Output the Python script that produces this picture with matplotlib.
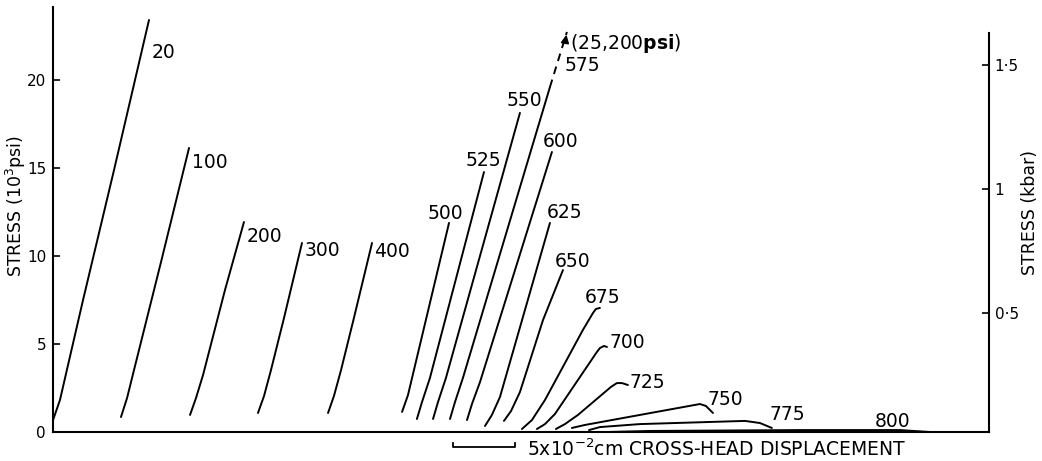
import matplotlib
matplotlib.use("Agg")
import matplotlib.pyplot as plt

plt.rcParams['font.family'] = ['DejaVu Sans']

# cross-head displacement in units of 1e-2 cm, stress in 1e3 psi
temps = ['20', '100', '200', '300', '400', '500', '525', '550', '575',
         '600', '625', '650', '675', '700', '725', '750', '775', '800']

disp = [
    [0, 0.56, 1.21, 2.42, 4.92, 7.74],
    [5.48, 5.97, 6.53, 8.71, 10.97],
    [11.05, 11.53, 12.10, 13.87, 15.40],
    [16.53, 17.02, 17.58, 18.63, 20.08],
    [22.18, 22.66, 23.23, 24.27, 25.73],
    [28.15, 28.63, 29.11, 31.94],
    [29.35, 29.76, 30.40, 34.76],
    [30.65, 31.05, 31.69, 37.66],
    [32.02, 32.42, 33.06, 40.08],
    [33.39, 33.79, 34.44, 40.24],
    [34.84, 35.40, 36.05, 40.08],
    [36.37, 36.94, 37.66, 39.52, 41.13],
    [37.82, 38.63, 39.68, 42.74, 43.55, 43.79, 44.11],
    [39.03, 39.68, 40.48, 43.87, 44.11, 44.44, 44.68],
    [40.56, 41.29, 42.34, 45.00, 45.48, 45.89, 46.37],
    [41.85, 42.90, 47.34, 52.18, 52.66, 53.23],
    [43.23, 44.11, 47.34, 55.81, 57.02, 57.98],
    [44.68, 48.15, 60.24, 68.31, 70.73],
]

stress = [
    [0.68, 1.82, 3.81, 7.50, 14.89, 23.41],
    [0.85, 1.93, 3.52, 9.66, 16.14],
    [0.97, 1.93, 3.24, 8.07, 11.93],
    [1.08, 2.05, 3.52, 6.48, 10.74],
    [1.08, 2.05, 3.52, 6.48, 10.74],
    [1.14, 2.10, 3.52, 11.88],
    [0.74, 1.70, 3.07, 14.77],
    [0.74, 1.70, 3.07, 18.13],
    [0.74, 1.70, 3.07, 19.60],
    [0.68, 1.59, 2.84, 15.91],
    [0.34, 0.97, 1.99, 11.88],
    [0.63, 1.19, 2.27, 6.36, 9.20],
    [0.17, 0.68, 1.82, 5.80, 6.76, 6.99, 7.05],
    [0.17, 0.45, 1.02, 4.55, 4.77, 4.89, 4.83],
    [0.17, 0.45, 0.97, 2.56, 2.78, 2.78, 2.67],
    [0.23, 0.40, 0.97, 1.59, 1.48, 1.08],
    [0.11, 0.28, 0.45, 0.63, 0.51, 0.23],
    [0.00, 0.06, 0.11, 0.11, 0.00],
]

# 575 run went off scale, extrapolated to the breaking stress
extra_disp = [40.08, 41.45]
extra_stress = [19.60, 22.73]
peak_note = r'(25,200$\mathbf{psi}$)'

# where each temperature label sits (left edge, middle)
label_x = [7.98, 11.21, 15.65, 20.32, 25.89, 30.24, 33.31, 36.61, 41.29,
           39.52, 39.84, 40.48, 42.90, 44.92, 46.53, 52.82, 57.82, 66.29]
label_y = [21.59, 15.34, 11.08, 10.34, 10.23, 12.44, 15.45, 18.86, 20.85,
           16.48, 12.5, 9.66, 7.67, 5.06, 2.84, 1.82, 1.02, 0.57]

ksi_ticks = [0, 5, 10, 15, 20]
kbar_ticks = [0.5, 1, 1.5]
kbar_labels = ['0·5', '1', '1·5']


def to_kbar(s):
    return (s + 0.3) / 14.1


def to_ksi(k):
    return k * 14.1 - 0.3


fig = plt.figure(figsize=(10.42, 4.61), dpi=100)
ax = fig.add_axes([0.0509, 0.0629, 0.8983, 0.9220])

for i in range(len(temps)):
    ax.plot(disp[i], stress[i], color='black', lw=1.4, solid_capstyle='round')
    ax.text(label_x[i], label_y[i], temps[i], fontsize=13.5, ha='left', va='center')

ax.plot(extra_disp, extra_stress, color='black', lw=1.4, ls=(0, (4, 3)))
ax.annotate('', xy=(extra_disp[1], extra_stress[1]),
            xytext=(extra_disp[1] - 0.2, extra_stress[1] - 0.8),
            arrowprops=dict(arrowstyle='-|>', color='black', lw=1.2,
                            mutation_scale=12))
ax.text(41.69, 22.10, peak_note, fontsize=13.5, ha='left', va='center')

ax.set_xlim(0, 75.5)
ax.set_ylim(0, 24.15)
ax.set_xticks([])
ax.set_yticks(ksi_ticks)
ax.tick_params(axis='y', direction='in', length=5, width=1.2, labelsize=11, pad=5)
ax.set_ylabel('STRESS (10$^3$psi)', fontsize=12.5)
ax.yaxis.set_label_coords(-0.027, 0.532)
ax.spines['top'].set_visible(False)
ax.spines['right'].set_visible(False)
ax.spines['left'].set_linewidth(1.5)
ax.spines['bottom'].set_linewidth(1.5)

# kbar scale on the right
ax2 = ax.secondary_yaxis('right', functions=(to_kbar, to_ksi))
ax2.set_yticks(kbar_ticks)
ax2.set_yticklabels(kbar_labels)
ax2.tick_params(axis='y', direction='in', length=5, width=1.2, labelsize=11, pad=4)
ax2.spines['right'].set_linewidth(1.5)
ax2.spines['right'].set_bounds(to_kbar(0), 1.63)
fig.text(0.9885, 0.54, 'STRESS (kbar)', fontsize=12.5, rotation=90,
         ha='center', va='center')

# scale bar for cross-head displacement
ax.plot([32.3, 32.3, 37.3, 37.3], [-0.6, -0.85, -0.85, -0.6],
        color='black', lw=1.3, clip_on=False)
ax.text(38.2, -1.0, '5x10$^{-2}$cm CROSS-HEAD DISPLACEMENT',
        fontsize=13.5, ha='left', va='center')

fig.savefig('out.png', dpi=100)
